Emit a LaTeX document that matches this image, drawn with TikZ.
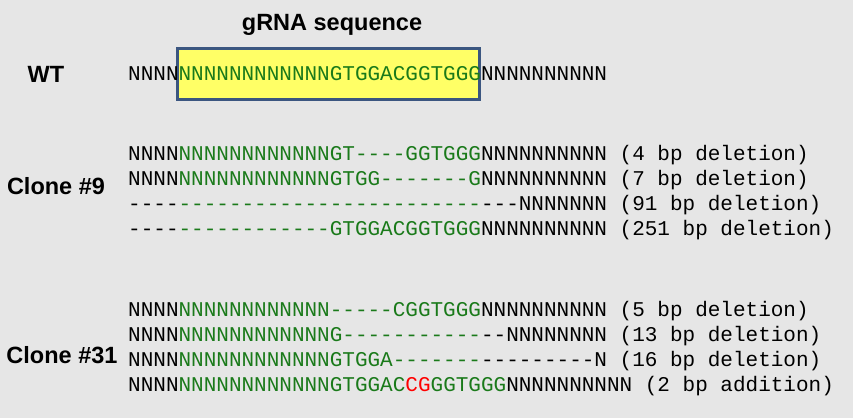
\documentclass[tikz,border=0pt]{standalone}
\usepackage{fontspec}
\setmainfont{Liberation Sans}
\newfontfamily\seqfont[Ligatures=TeXOff]{Liberation Mono}
\usetikzlibrary{positioning}
\definecolor{bggray}{HTML}{E6E6E6}
\definecolor{seqgreen}{HTML}{1A7A1A}
\definecolor{boxedge}{HTML}{3B5680}
\definecolor{boxfill}{HTML}{FFFF66}
\newcommand\gr[1]{\textcolor{seqgreen}{#1}}
\newcommand\rd[1]{\textcolor{red}{#1}}

\begin{document}
\begin{tikzpicture}[
    x=1pt, y=-1pt,
    seq/.style={anchor=west, inner sep=0pt, font=\seqfont\fontsize{21}{21}\selectfont},
    label/.style={font=\bfseries\fontsize{23.5}{24}\selectfont, inner sep=0pt},
    grna/.style={draw=boxedge, line width=2.5pt, fill=boxfill}
]
    \useasboundingbox[fill=bggray] (0,0) rectangle (853,418);

    % gRNA box and title
    \node[grna, minimum width=302pt, minimum height=51pt, anchor=north west] (gbox) at (176,47) {};
    \node[label] (title) at (332,25) {gRNA sequence};

    % Wild type
    \node[label] (wt) at (46,74) {WT};
    \node[seq] (wtseq) at (128,74) {NNNN\gr{NNNNNNNNNNNNGTGGACGGTGGG}NNNNNNNNNN};

    % Clone #9
    \node[label] (c9) at (56,186) {Clone \#9};
    \node[seq] (c9a) at (128,155) {NNNN\gr{NNNNNNNNNNNNGT----GGTGGG}NNNNNNNNNN (4 bp deletion)};
    \node[seq] (c9b) at (128,180) {NNNN\gr{NNNNNNNNNNNNGTGG-------G}NNNNNNNNNN (7 bp deletion)};
    \node[seq] (c9c) at (128,205) {----\gr{------------------------}---NNNNNNN (91 bp deletion)};
    \node[seq] (c9d) at (128,230) {----\gr{------------GTGGACGGTGGG}NNNNNNNNNN (251 bp deletion)};

    % Clone #31
    \node[label] (c31) at (62,355) {Clone \#31};
    \node[seq] (c31a) at (128,311) {NNNN\gr{NNNNNNNNNNNN-----CGGTGGG}NNNNNNNNNN (5 bp deletion)};
    \node[seq] (c31b) at (128,336) {NNNN\gr{NNNNNNNNNNNNG-----------}--NNNNNNNN (13 bp deletion)};
    \node[seq] (c31c) at (128,361) {NNNN\gr{NNNNNNNNNNNNGTGGA-------}---------N (16 bp deletion)};
    \node[seq] (c31d) at (128,386) {NNNN\gr{NNNNNNNNNNNNGTGGAC\rd{CG}GGTGGG}NNNNNNNNNN (2 bp addition)};
\end{tikzpicture}
\end{document}
